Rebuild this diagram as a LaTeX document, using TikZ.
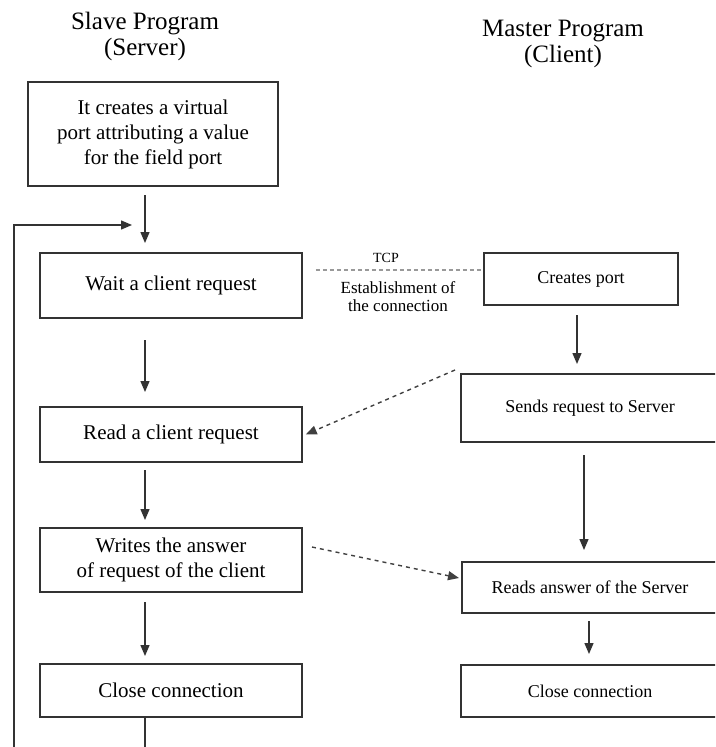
\documentclass[tikz,border=0pt]{standalone}
\usepackage{fontspec}
\setmainfont{Liberation Serif}
\usetikzlibrary{arrows.meta}
\tikzset{
  stepbox/.style={draw=black!80, line width=1.5pt, align=center, inner sep=2pt},
  slavetext/.style={font=\fontsize{21}{25}\selectfont},
  mastertext/.style={font=\fontsize{18}{22}\selectfont},
  flow/.style={draw=black!80, line width=1.4pt, -{Triangle[length=11pt,width=9pt]}},
  msg/.style={draw=black!75, line width=1.4pt, dash pattern=on 4pt off 4pt, -{Triangle[length=11pt,width=9pt]}}
}
\begin{document}
\begin{tikzpicture}[x=1pt,y=-1pt]
    \useasboundingbox (0,0) rectangle (715,747);
    \clip (0,0) rectangle (715,747);
    % headings
    \node[align=center, font=\fontsize{25}{26}\selectfont] (slavehead) at (145,36) {Slave Program\\(Server)};
    \node[align=center, font=\fontsize{25}{26}\selectfont] (masterhead) at (563,44) {Master Program\\(Client)};
    % slave side
    \node[stepbox, slavetext, minimum width=250pt, minimum height=104pt] (create) at (153,134)
        {It creates a virtual\\port attributing a value\\for the field port};
    \node[stepbox, slavetext, minimum width=262pt, minimum height=65pt] (wait) at (171,285.5) {Wait a client request};
    \node[stepbox, slavetext, minimum width=262pt, minimum height=55pt] (read) at (171,434.5) {Read a client request};
    \node[stepbox, slavetext, minimum width=262pt, minimum height=64pt] (write) at (171,560)
        {Writes the answer\\of request of the client};
    \node[stepbox, slavetext, minimum width=262pt, minimum height=53pt] (sclose) at (171,690.5) {Close connection};
    % master side
    \node[stepbox, mastertext, minimum width=194pt, minimum height=52pt] (port) at (581,279) {Creates port};
    \node[stepbox, mastertext, minimum width=258pt, minimum height=68pt] (send) at (590,408) {Sends request to Server};
    \node[stepbox, mastertext, minimum width=256pt, minimum height=51pt] (answer) at (590,587.5) {Reads answer of the Server};
    \node[stepbox, mastertext, minimum width=258pt, minimum height=52pt] (mclose) at (590,691) {Close connection};
    % slave flow
    \coordinate (a1) at (145,195);
    \coordinate (a2) at (145,243);
    \draw[flow] (a1) -- (a2);
    \coordinate (b1) at (145,340);
    \coordinate (b2) at (145,392);
    \draw[flow] (b1) -- (b2);
    \coordinate (c1) at (145,470);
    \coordinate (c2) at (145,520);
    \draw[flow] (c1) -- (c2);
    \coordinate (d1) at (145,602);
    \coordinate (d2) at (145,656);
    \draw[flow] (d1) -- (d2);
    % loop back
    \coordinate (loopdown) at (145,750);
    \coordinate (loopleft) at (14,750);
    \coordinate (looptop) at (14,225);
    \coordinate (loopend) at (132,225);
    \draw[draw=black!80, line width=1.4pt] (sclose.south -| loopdown) -- (loopdown);
    \draw[flow] (loopleft) -- (looptop) -- (loopend);
    % master flow
    \coordinate (e1) at (577,315);
    \coordinate (e2) at (577,364);
    \draw[flow] (e1) -- (e2);
    \coordinate (f1) at (584,455);
    \coordinate (f2) at (584,550);
    \draw[flow] (f1) -- (f2);
    \coordinate (g1) at (589,621);
    \coordinate (g2) at (589,654);
    \draw[flow] (g1) -- (g2);
    % messages
    \coordinate (tcpend) at (port.west |- 0,270);
    \draw[draw=black!40, line width=1.2pt, dash pattern=on 4pt off 3pt] (wait.east |- 0,270) ++(13,0) -- (tcpend);
    \node[font=\fontsize{14}{16}\selectfont] (tcp) at (386,258) {TCP};
    \node[align=center, font=\fontsize{17}{18}\selectfont] (establish) at (398,297) {Establishment of\\the connection};
    \coordinate (s1) at (455,370);
    \draw[msg] (s1) -- ([xshift=3pt]read.east);
    \coordinate (w1) at (312,547);
    \coordinate (w2) at (459,578);
    \draw[msg] (w1) -- (w2);
\end{tikzpicture}
\end{document}
